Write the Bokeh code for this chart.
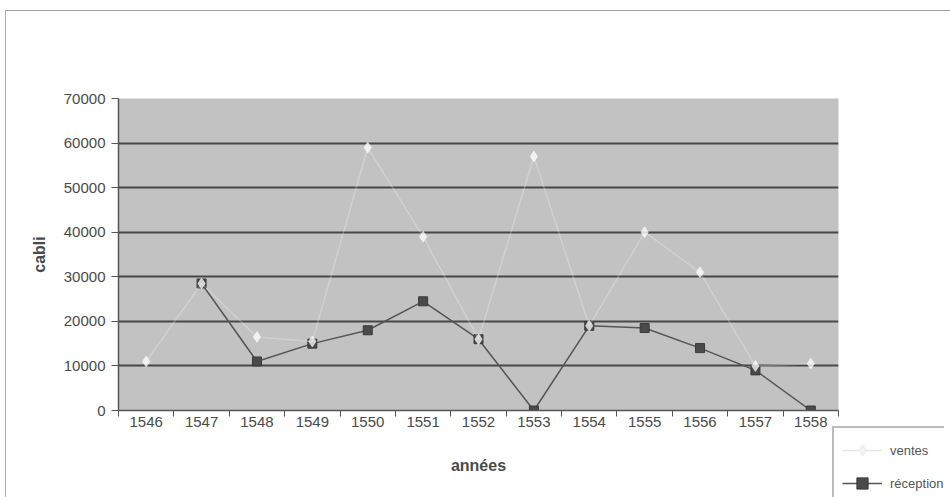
from bokeh.plotting import figure
from bokeh.layouts import column
from bokeh.models import (Range1d, LinearAxis, FixedTicker, Legend, LegendItem,
                          ColumnDataSource, InlineStyleSheet)
from bokeh.embed import file_html
from bokeh.resources import INLINE

NaN = float("nan")

years = ["1546", "1547", "1548", "1549", "1550", "1551", "1552",
         "1553", "1554", "1555", "1556", "1557", "1558"]
ventes = [11000, 28500, 16500, 15500, 59000, 39000, 16000,
          57000, 19000, 40000, 31000, 10000, 10500]
reception = [NaN, 28500, 11000, 15000, 18000, 24500, 16000,
             0, 19000, 18500, 14000, 9000, 0]
y_ticks = [0, 10000, 20000, 30000, 40000, 50000, 60000, 70000]
series_names = ["ventes", "réception"]

xpos = [i + 0.5 for i in range(len(years))]
src = ColumnDataSource(dict(x=xpos, ventes=ventes, reception=reception))

FONT = "Liberation Sans"
TXT = "#4a4a4a"

css_main = InlineStyleSheet(css="""
:host { position: relative; }
:host::after { content: ''; position: absolute; left: 5px; top: 10px;
  width: 945px; height: 487px; box-sizing: border-box;
  border-top: 1.5px solid #a0a0a0; border-left: 1.5px solid #b0b0b0;
  pointer-events: none; }
""")
css_leg = InlineStyleSheet(css="""
:host { position: absolute !important; left: 832px !important;
  top: 426px !important; transform: translateX(-6px); }
""")

p = figure(width=950, height=497, output_backend="svg", toolbar_location=None,
           x_range=Range1d(0, len(years)), y_range=Range1d(0, 70000),
           x_axis_location=None, y_axis_location="left",
           min_border_left=118, min_border_right=112,
           min_border_top=98, min_border_bottom=87,
           background_fill_color="#c2c2c2", border_fill_color="white",
           outline_line_color=None, stylesheets=[css_main])

p.xgrid.visible = False
p.ygrid.ticker = FixedTicker(ticks=y_ticks)
p.ygrid.grid_line_color = "#474747"
p.ygrid.grid_line_width = 2

ya = p.yaxis[0]
ya.ticker = FixedTicker(ticks=y_ticks)
ya.axis_line_color = "#555555"
ya.axis_line_width = 1.5
ya.major_tick_in = 0
ya.major_tick_out = 7
ya.major_tick_line_color = "#555555"
ya.minor_tick_line_color = None
ya.major_label_standoff = 6
ya.major_label_text_font = FONT
ya.major_label_text_font_size = "15px"
ya.major_label_text_color = TXT
ya.axis_label = "cabli"
ya.axis_label_text_font = FONT
ya.axis_label_text_font_style = "bold"
ya.axis_label_text_font_size = "16px"
ya.axis_label_text_color = TXT
ya.axis_label_standoff = 13

# x axis: ticks between categories (no visible labels)
xt = LinearAxis(ticker=FixedTicker(ticks=list(range(len(years) + 1))))
xt.major_label_overrides = {i: "" for i in range(len(years) + 1)}
xt.axis_line_color = "#555555"
xt.axis_line_width = 1.5
xt.major_tick_in = 0
xt.major_tick_out = 6
xt.major_tick_line_color = "#555555"
xt.minor_tick_line_color = None
xt.major_label_text_font_size = "1px"
xt.major_label_standoff = 0
p.add_layout(xt, "below")

# x axis: category labels
xl = LinearAxis(ticker=FixedTicker(ticks=xpos))
xl.major_label_overrides = {x: y for x, y in zip(xpos, years)}
xl.axis_line_color = None
xl.major_tick_line_color = None
xl.minor_tick_line_color = None
xl.major_tick_out = 0
xl.major_label_standoff = 0
xl.major_label_text_font = FONT
xl.major_label_text_font_size = "15px"
xl.major_label_text_color = TXT
xl.axis_label = "années"
xl.axis_label_text_font = FONT
xl.axis_label_text_font_style = "bold"
xl.axis_label_text_font_size = "16px"
xl.axis_label_text_color = TXT
xl.axis_label_standoff = 27
p.add_layout(xl, "below")

rl = p.line("x", "reception", source=src, line_color="#555555", line_width=1.5)
rm = p.scatter("x", "reception", source=src, marker="square", size=9,
               fill_color="#4a4a4a", line_color="#3a3a3a")
vl = p.line("x", "ventes", source=src, line_color="white", line_alpha=0.25,
            line_width=1.5)
vm = p.scatter("x", "ventes", source=src, marker="diamond", size=11,
               fill_color="white", line_color="white", fill_alpha=0.75,
               line_alpha=0.5)

# legend, drawn in a small overlaid figure (the reference legend sits outside
# the plot area, cut by the picture's edge)
leg_src = ColumnDataSource(dict(x=[NaN], y=[NaN]))
p2 = figure(width=118, height=71, output_backend="svg", toolbar_location=None,
            x_range=Range1d(0, 1), y_range=Range1d(0, 1),
            x_axis_location=None, y_axis_location=None, min_border=0,
            outline_line_color=None, background_fill_color="white",
            border_fill_color="white", stylesheets=[css_leg])
p2.grid.visible = False
lvl = p2.line("x", "y", source=leg_src, line_color="#e6e6e6", line_width=1.5)
lvm = p2.scatter("x", "y", source=leg_src, marker="diamond", size=11,
                 fill_color="#f2f2f2", line_color="#ececec")
lrl = p2.line("x", "y", source=leg_src, line_color="#555555", line_width=1.5)
lrm = p2.scatter("x", "y", source=leg_src, marker="square", size=9,
                 fill_color="#4a4a4a", line_color="#3a3a3a")
legend = Legend(items=[LegendItem(label=series_names[0], renderers=[lvl, lvm]),
                       LegendItem(label=series_names[1], renderers=[lrl, lrm])],
                location="top_left")
legend.border_line_color = "#777777"
legend.border_line_width = 2
legend.background_fill_color = "white"
legend.label_text_font = FONT
legend.label_text_font_size = "13px"
legend.label_text_color = "#555555"
legend.label_standoff = 8
legend.glyph_width = 40
legend.glyph_height = 28
legend.spacing = 5
legend.padding = 8
legend.margin = 0
p2.add_layout(legend)

layout = column(p, p2)
open("out.html", "w").write(file_html(layout, INLINE))
